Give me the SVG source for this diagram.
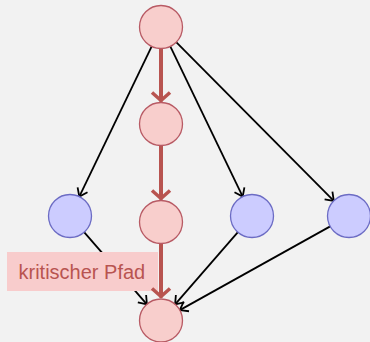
<svg xmlns="http://www.w3.org/2000/svg" width="370" height="342" viewBox="0 0 370 342">
<style>
.pink{fill:#f8cecc;stroke:#b85a64;stroke-width:1.3}
.blue{fill:#ccccff;stroke:#6c6cc4;stroke-width:1.3}
.edge{fill:none;stroke:#000;stroke-width:1.8}
.crit{fill:none;stroke:#b85450;stroke-width:4}
.lbl{font-family:"Liberation Sans",Arial,sans-serif;font-size:20px;fill:#b85450}
</style>
<defs>
<marker id="ah" markerUnits="userSpaceOnUse" markerWidth="20" markerHeight="20" refX="10" refY="10" orient="auto" overflow="visible">
<path d="M2.5,4.5 L10,10 L2.5,15.5" fill="none" stroke="#000" stroke-width="1.8"/>
</marker>
<marker id="ahr" markerUnits="userSpaceOnUse" markerWidth="24" markerHeight="24" refX="12" refY="12" orient="auto" overflow="visible">
<path d="M3,3 L11,12 L3,21" fill="none" stroke="#b85450" stroke-width="3.5" stroke-linejoin="round"/>
</marker>
</defs>
<rect width="370" height="342" fill="#f2f2f2"/>
<g id="connectors">
<line class="edge" x1="151.7" y1="46.4" x2="79.3" y2="196.6" marker-end="url(#ah)"/>
<line class="edge" x1="170.3" y1="46.4" x2="242.7" y2="196.6" marker-end="url(#ah)"/>
<line class="edge" x1="176.2" y1="42.2" x2="333.8" y2="200.8" marker-end="url(#ah)"/>
<line class="edge" x1="84.1" y1="232.2" x2="146.9" y2="304.3" marker-end="url(#ah)"/>
<line class="edge" x1="237.9" y1="232.2" x2="175.1" y2="304.3" marker-end="url(#ah)"/>
<line class="edge" x1="330.2" y1="226.4" x2="179.8" y2="310.1" marker-end="url(#ah)"/>
</g>
<g id="label">
<rect x="7" y="252" width="151" height="39" fill="#f8cccc"/>
<text class="lbl" x="18.5" y="279">kritischer Pfad</text>
</g>
<g id="critical">
<line class="crit" x1="161" y1="48.5" x2="161" y2="101.5" marker-end="url(#ahr)"/>
<line class="crit" x1="161" y1="146" x2="161" y2="199.5" marker-end="url(#ahr)"/>
<line class="crit" x1="161" y1="244" x2="161" y2="297.5" marker-end="url(#ahr)"/>
</g>
<g id="n1"><circle class="pink" cx="161" cy="27" r="21.5"/></g>
<g id="n2"><circle class="pink" cx="161" cy="124" r="21.5"/></g>
<g id="n3"><circle class="pink" cx="161" cy="222" r="21.5"/></g>
<g id="n4"><circle class="pink" cx="161" cy="320.5" r="21.5"/></g>
<g id="b1"><circle class="blue" cx="70" cy="216" r="21.5"/></g>
<g id="b2"><circle class="blue" cx="252" cy="216" r="21.5"/></g>
<g id="b3"><circle class="blue" cx="349" cy="216" r="21.5"/></g>
</svg>
